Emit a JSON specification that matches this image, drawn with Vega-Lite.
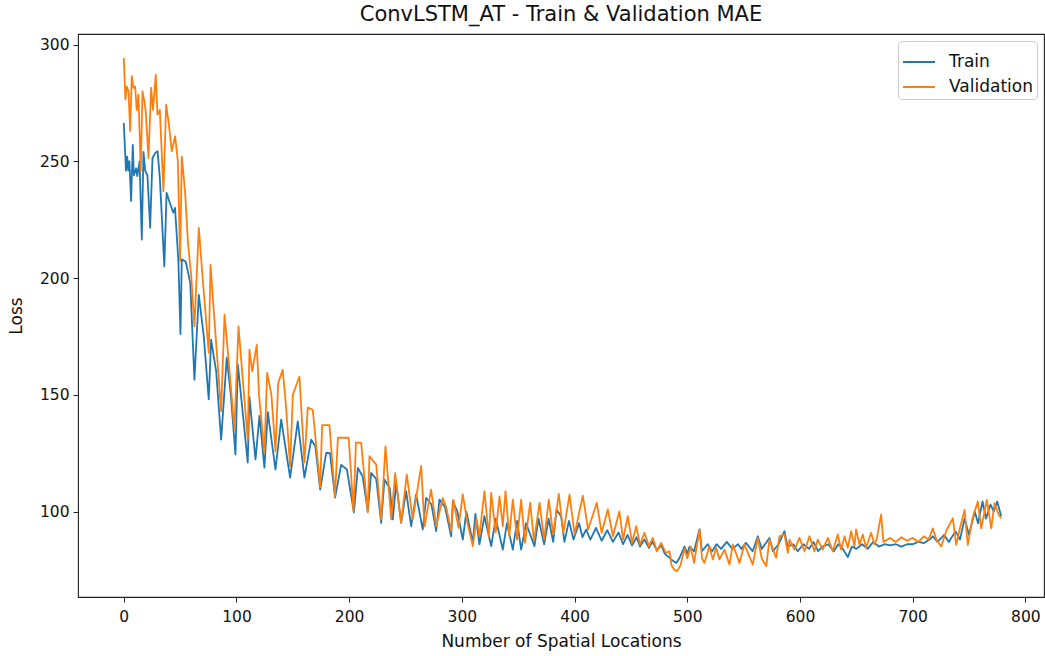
{
"$schema": "https://vega.github.io/schema/vega-lite/v6.json",
"width": 966, "height": 563,
"autosize": {"type": "none"},
"padding": {"left": 78, "top": 34, "right": 1, "bottom": 59},
"background": "white",
"config": {
  "font": "DejaVu Sans",
  "view": {"stroke": "#222", "strokeWidth": 1.1},
  "axis": {"labelFont": "DejaVu Sans", "labelFontSize": 15.5, "labelColor": "#111", "titleFont": "DejaVu Sans", "titleFontSize": 17, "titleFontWeight": "normal", "titleColor": "#111", "tickColor": "#222", "tickSize": 5, "domain": false, "grid": false, "labelPadding": 4}
},
"title": {"text": "ConvLSTM_AT - Train & Validation MAE", "font": "DejaVu Sans", "fontSize": 21, "fontWeight": "normal", "color": "#111", "offset": 9},
"data": {"values": [
{"series":"Train","x":0,"loss":266.4},{"series":"Train","x":2,"loss":246},{"series":"Train","x":3,"loss":252},{"series":"Train","x":4,"loss":246},{"series":"Train","x":5,"loss":250},{"series":"Train","x":6.5,"loss":233},{"series":"Train","x":8,"loss":257},{"series":"Train","x":9,"loss":244},{"series":"Train","x":11,"loss":247},{"series":"Train","x":12,"loss":243.6},{"series":"Train","x":14,"loss":250},{"series":"Train","x":16,"loss":216.5},{"series":"Train","x":17.5,"loss":254},{"series":"Train","x":19,"loss":246},{"series":"Train","x":21,"loss":244},{"series":"Train","x":23.4,"loss":221.5},{"series":"Train","x":25.5,"loss":251.4},{"series":"Train","x":28,"loss":253.6},{"series":"Train","x":30,"loss":254.3},{"series":"Train","x":32,"loss":243},{"series":"Train","x":36,"loss":205},{"series":"Train","x":38,"loss":236.5},{"series":"Train","x":41,"loss":232},{"series":"Train","x":44,"loss":228},{"series":"Train","x":45.5,"loss":230},{"series":"Train","x":48.5,"loss":207},{"series":"Train","x":50.3,"loss":176},{"series":"Train","x":51.5,"loss":208},{"series":"Train","x":55,"loss":207},{"series":"Train","x":59,"loss":198},{"series":"Train","x":62.7,"loss":156.5},{"series":"Train","x":66.6,"loss":192.8},{"series":"Train","x":71,"loss":175},{"series":"Train","x":75.4,"loss":148},{"series":"Train","x":77.5,"loss":173.6},{"series":"Train","x":82,"loss":160},{"series":"Train","x":86.4,"loss":130.8},{"series":"Train","x":91.4,"loss":165.9},{"series":"Train","x":95,"loss":150},{"series":"Train","x":99.1,"loss":124.4},{"series":"Train","x":101.2,"loss":163},{"series":"Train","x":105,"loss":145},{"series":"Train","x":110,"loss":121},{"series":"Train","x":111.5,"loss":149},{"series":"Train","x":116.9,"loss":122.3},{"series":"Train","x":120.4,"loss":141},{"series":"Train","x":124.8,"loss":118.8},{"series":"Train","x":127.8,"loss":142.6},{"series":"Train","x":134.6,"loss":118},{"series":"Train","x":139.7,"loss":139.4},{"series":"Train","x":147.6,"loss":114.5},{"series":"Train","x":154.4,"loss":138.6},{"series":"Train","x":160.3,"loss":114.5},{"series":"Train","x":166.3,"loss":130.8},{"series":"Train","x":170,"loss":128},{"series":"Train","x":174.3,"loss":109.4},{"series":"Train","x":179.6,"loss":125.1},{"series":"Train","x":183,"loss":125},{"series":"Train","x":187.5,"loss":106},{"series":"Train","x":192.9,"loss":120},{"series":"Train","x":198,"loss":118},{"series":"Train","x":204.2,"loss":99.6},{"series":"Train","x":207.7,"loss":118.7},{"series":"Train","x":212,"loss":115},{"series":"Train","x":216.5,"loss":100},{"series":"Train","x":219.5,"loss":116.5},{"series":"Train","x":224,"loss":114},{"series":"Train","x":228.4,"loss":95.1},{"series":"Train","x":231.3,"loss":113.7},{"series":"Train","x":236,"loss":110},{"series":"Train","x":238.7,"loss":96.6},{"series":"Train","x":241.7,"loss":112.3},{"series":"Train","x":246.1,"loss":95.1},{"series":"Train","x":250.5,"loss":108.7},{"series":"Train","x":255,"loss":93.7},{"series":"Train","x":259.4,"loss":107.3},{"series":"Train","x":265.3,"loss":92.3},{"series":"Train","x":268.3,"loss":105.8},{"series":"Train","x":273,"loss":103},{"series":"Train","x":277.2,"loss":91.6},{"series":"Train","x":280.1,"loss":105.1},{"series":"Train","x":285,"loss":102},{"series":"Train","x":290.5,"loss":89.4},{"series":"Train","x":292,"loss":104.4},{"series":"Train","x":296,"loss":100},{"series":"Train","x":300.8,"loss":88},{"series":"Train","x":304,"loss":100},{"series":"Train","x":309.7,"loss":86.6},{"series":"Train","x":312,"loss":99},{"series":"Train","x":315.6,"loss":85.9},{"series":"Train","x":320,"loss":98},{"series":"Train","x":326,"loss":85.2},{"series":"Train","x":330,"loss":97},{"series":"Train","x":336.3,"loss":83.7},{"series":"Train","x":340,"loss":95},{"series":"Train","x":345.2,"loss":83.7},{"series":"Train","x":349,"loss":96},{"series":"Train","x":352.6,"loss":83.7},{"series":"Train","x":357,"loss":95},{"series":"Train","x":364.4,"loss":85.2},{"series":"Train","x":368,"loss":97},{"series":"Train","x":373,"loss":86},{"series":"Train","x":377,"loss":97},{"series":"Train","x":381,"loss":87},{"series":"Train","x":384,"loss":100.9},{"series":"Train","x":388,"loss":98},{"series":"Train","x":391,"loss":87},{"series":"Train","x":395,"loss":96},{"series":"Train","x":399,"loss":88},{"series":"Train","x":404,"loss":95},{"series":"Train","x":407,"loss":89},{"series":"Train","x":410.3,"loss":92.3},{"series":"Train","x":414,"loss":88},{"series":"Train","x":419,"loss":93},{"series":"Train","x":424,"loss":87.5},{"series":"Train","x":429,"loss":92},{"series":"Train","x":434,"loss":87},{"series":"Train","x":439,"loss":91},{"series":"Train","x":443,"loss":86},{"series":"Train","x":447,"loss":90},{"series":"Train","x":451,"loss":85.5},{"series":"Train","x":455,"loss":89},{"series":"Train","x":458,"loss":85},{"series":"Train","x":462,"loss":88},{"series":"Train","x":466,"loss":84.5},{"series":"Train","x":469,"loss":87},{"series":"Train","x":473,"loss":83.5},{"series":"Train","x":477,"loss":85.5},{"series":"Train","x":480,"loss":82},{"series":"Train","x":485.7,"loss":79.5},{"series":"Train","x":490.2,"loss":78},{"series":"Train","x":493,"loss":80},{"series":"Train","x":497.5,"loss":85},{"series":"Train","x":500,"loss":82},{"series":"Train","x":502,"loss":85},{"series":"Train","x":506,"loss":83},{"series":"Train","x":510.9,"loss":92.4},{"series":"Train","x":513,"loss":83},{"series":"Train","x":518,"loss":86},{"series":"Train","x":522,"loss":83},{"series":"Train","x":526,"loss":86},{"series":"Train","x":530,"loss":84},{"series":"Train","x":535,"loss":87},{"series":"Train","x":540,"loss":84},{"series":"Train","x":545,"loss":86},{"series":"Train","x":548,"loss":84},{"series":"Train","x":552,"loss":86.6},{"series":"Train","x":558,"loss":83},{"series":"Train","x":562.6,"loss":89.4},{"series":"Train","x":566,"loss":84},{"series":"Train","x":572.9,"loss":88.7},{"series":"Train","x":576,"loss":83},{"series":"Train","x":581,"loss":86},{"series":"Train","x":586.2,"loss":91.6},{"series":"Train","x":589,"loss":85},{"series":"Train","x":594,"loss":86},{"series":"Train","x":598,"loss":83},{"series":"Train","x":603,"loss":86},{"series":"Train","x":608,"loss":84},{"series":"Train","x":612,"loss":87},{"series":"Train","x":616,"loss":83},{"series":"Train","x":620,"loss":85},{"series":"Train","x":625,"loss":86},{"series":"Train","x":630,"loss":83},{"series":"Train","x":634,"loss":86},{"series":"Train","x":638,"loss":84},{"series":"Train","x":642.4,"loss":80.5},{"series":"Train","x":646,"loss":85},{"series":"Train","x":650,"loss":84},{"series":"Train","x":655,"loss":86},{"series":"Train","x":660,"loss":84},{"series":"Train","x":665,"loss":87},{"series":"Train","x":670,"loss":85},{"series":"Train","x":675,"loss":86},{"series":"Train","x":680,"loss":85.5},{"series":"Train","x":685,"loss":86},{"series":"Train","x":690,"loss":85},{"series":"Train","x":695,"loss":86},{"series":"Train","x":700,"loss":86},{"series":"Train","x":705,"loss":87},{"series":"Train","x":710,"loss":86.5},{"series":"Train","x":715,"loss":88},{"series":"Train","x":717.8,"loss":89.4},{"series":"Train","x":722,"loss":87},{"series":"Train","x":728,"loss":90},{"series":"Train","x":732,"loss":87},{"series":"Train","x":738,"loss":91.5},{"series":"Train","x":742,"loss":88},{"series":"Train","x":746,"loss":97},{"series":"Train","x":750,"loss":90},{"series":"Train","x":755,"loss":100},{"series":"Train","x":758,"loss":95},{"series":"Train","x":762,"loss":104.3},{"series":"Train","x":765,"loss":97},{"series":"Train","x":769,"loss":103},{"series":"Train","x":772,"loss":100},{"series":"Train","x":775,"loss":104.3},{"series":"Train","x":778.5,"loss":98},
{"series":"Validation","x":0,"loss":294.2},{"series":"Validation","x":1.5,"loss":276.4},{"series":"Validation","x":2.7,"loss":282},{"series":"Validation","x":4.2,"loss":280},{"series":"Validation","x":5.7,"loss":263},{"series":"Validation","x":7.1,"loss":286.4},{"series":"Validation","x":8.6,"loss":281.4},{"series":"Validation","x":10.1,"loss":282},{"series":"Validation","x":11.5,"loss":272},{"series":"Validation","x":13,"loss":278.5},{"series":"Validation","x":15.1,"loss":245.8},{"series":"Validation","x":16.6,"loss":280},{"series":"Validation","x":18,"loss":276.4},{"series":"Validation","x":19.5,"loss":271.4},{"series":"Validation","x":21.9,"loss":251.4},{"series":"Validation","x":24.3,"loss":281.4},{"series":"Validation","x":26,"loss":272},{"series":"Validation","x":28.4,"loss":287},{"series":"Validation","x":29.9,"loss":270},{"series":"Validation","x":32,"loss":272},{"series":"Validation","x":35.2,"loss":237.2},{"series":"Validation","x":37.6,"loss":274.2},{"series":"Validation","x":40,"loss":266},{"series":"Validation","x":42.6,"loss":254.3},{"series":"Validation","x":45.6,"loss":260.7},{"series":"Validation","x":48,"loss":250},{"series":"Validation","x":50,"loss":207.3},{"series":"Validation","x":51.5,"loss":252},{"series":"Validation","x":54.4,"loss":237},{"series":"Validation","x":57,"loss":215},{"series":"Validation","x":60,"loss":200},{"series":"Validation","x":62.7,"loss":179.3},{"series":"Validation","x":66.6,"loss":221.5},{"series":"Validation","x":70,"loss":200},{"series":"Validation","x":75.4,"loss":168},{"series":"Validation","x":77,"loss":205.7},{"series":"Validation","x":80,"loss":185},{"series":"Validation","x":86.4,"loss":143},{"series":"Validation","x":89.4,"loss":184.3},{"series":"Validation","x":93,"loss":165},{"series":"Validation","x":98.2,"loss":135.1},{"series":"Validation","x":101.8,"loss":179.3},{"series":"Validation","x":105,"loss":160},{"series":"Validation","x":110,"loss":130.8},{"series":"Validation","x":111.5,"loss":169.3},{"series":"Validation","x":114,"loss":160},{"series":"Validation","x":118,"loss":171.4},{"series":"Validation","x":120,"loss":150},{"series":"Validation","x":124.8,"loss":125.2},{"series":"Validation","x":127.2,"loss":159.4},{"series":"Validation","x":131,"loss":150},{"series":"Validation","x":134.6,"loss":125.7},{"series":"Validation","x":137,"loss":155},{"series":"Validation","x":141,"loss":160.7},{"series":"Validation","x":144,"loss":145},{"series":"Validation","x":147.6,"loss":119.3},{"series":"Validation","x":150,"loss":150},{"series":"Validation","x":155.9,"loss":157.8},{"series":"Validation","x":158,"loss":140},{"series":"Validation","x":160.3,"loss":121},{"series":"Validation","x":163.3,"loss":144.5},{"series":"Validation","x":167.7,"loss":143.6},{"series":"Validation","x":174.3,"loss":110.5},{"series":"Validation","x":176,"loss":137},{"series":"Validation","x":182.5,"loss":137},{"series":"Validation","x":187.4,"loss":106.5},{"series":"Validation","x":190,"loss":131.6},{"series":"Validation","x":199.6,"loss":131.6},{"series":"Validation","x":203.8,"loss":100.1},{"series":"Validation","x":206,"loss":129.5},{"series":"Validation","x":210.6,"loss":129.5},{"series":"Validation","x":216.5,"loss":99.6},{"series":"Validation","x":218,"loss":123.7},{"series":"Validation","x":224,"loss":120.1},{"series":"Validation","x":228.4,"loss":96.6},{"series":"Validation","x":232.2,"loss":127.9},{"series":"Validation","x":237.3,"loss":96.6},{"series":"Validation","x":240.8,"loss":116.4},{"series":"Validation","x":246.1,"loss":95.3},{"series":"Validation","x":251.1,"loss":115.8},{"series":"Validation","x":256.4,"loss":96.6},{"series":"Validation","x":263.9,"loss":119.5},{"series":"Validation","x":266.8,"loss":93.7},{"series":"Validation","x":272.7,"loss":109.4},{"series":"Validation","x":277.2,"loss":93.7},{"series":"Validation","x":283,"loss":105.8},{"series":"Validation","x":286,"loss":102},{"series":"Validation","x":290.5,"loss":91.6},{"series":"Validation","x":292.5,"loss":105.1},{"series":"Validation","x":297,"loss":93},{"series":"Validation","x":300.8,"loss":107.3},{"series":"Validation","x":305,"loss":95},{"series":"Validation","x":309.7,"loss":85.2},{"series":"Validation","x":313,"loss":97},{"series":"Validation","x":315.6,"loss":89.4},{"series":"Validation","x":320,"loss":108.7},{"series":"Validation","x":324,"loss":89},{"series":"Validation","x":326,"loss":108},{"series":"Validation","x":330,"loss":91},{"series":"Validation","x":333.4,"loss":106.5},{"series":"Validation","x":336.3,"loss":93.7},{"series":"Validation","x":338.7,"loss":108.7},{"series":"Validation","x":342,"loss":89.4},{"series":"Validation","x":345.2,"loss":105.1},{"series":"Validation","x":349,"loss":88},{"series":"Validation","x":352.6,"loss":105.1},{"series":"Validation","x":356,"loss":86.6},{"series":"Validation","x":360.6,"loss":103.7},{"series":"Validation","x":364,"loss":87.3},{"series":"Validation","x":368.9,"loss":103.7},{"series":"Validation","x":373,"loss":88},{"series":"Validation","x":377.1,"loss":105.1},{"series":"Validation","x":381,"loss":90.2},{"series":"Validation","x":386,"loss":107.6},{"series":"Validation","x":390,"loss":90.9},{"series":"Validation","x":395.5,"loss":107.2},{"series":"Validation","x":400,"loss":90.2},{"series":"Validation","x":407.3,"loss":106.8},{"series":"Validation","x":412,"loss":92.3},{"series":"Validation","x":419.7,"loss":103.7},{"series":"Validation","x":424,"loss":90.9},{"series":"Validation","x":429.5,"loss":100.9},{"series":"Validation","x":434,"loss":89.4},{"series":"Validation","x":439.8,"loss":100.1},{"series":"Validation","x":443,"loss":88},{"series":"Validation","x":447.2,"loss":98},{"series":"Validation","x":451,"loss":86.6},{"series":"Validation","x":454.7,"loss":93.7},{"series":"Validation","x":458,"loss":85.9},{"series":"Validation","x":462,"loss":90.9},{"series":"Validation","x":466,"loss":85.2},{"series":"Validation","x":469.4,"loss":88.7},{"series":"Validation","x":473,"loss":83},{"series":"Validation","x":476.8,"loss":86.6},{"series":"Validation","x":481,"loss":82.3},{"series":"Validation","x":484.2,"loss":83},{"series":"Validation","x":486,"loss":77},{"series":"Validation","x":488.6,"loss":75},{"series":"Validation","x":491,"loss":74.5},{"series":"Validation","x":494,"loss":77},{"series":"Validation","x":497.5,"loss":84},{"series":"Validation","x":500,"loss":80},{"series":"Validation","x":503,"loss":85},{"series":"Validation","x":506,"loss":78},{"series":"Validation","x":508,"loss":84},{"series":"Validation","x":511,"loss":92.4},{"series":"Validation","x":513,"loss":80},{"series":"Validation","x":515.2,"loss":78},{"series":"Validation","x":519.7,"loss":85.2},{"series":"Validation","x":522.6,"loss":79.5},{"series":"Validation","x":525.6,"loss":84.5},{"series":"Validation","x":528.5,"loss":79.5},{"series":"Validation","x":533,"loss":83.7},{"series":"Validation","x":537.4,"loss":77.3},{"series":"Validation","x":540.4,"loss":85.9},{"series":"Validation","x":546.3,"loss":78},{"series":"Validation","x":550.7,"loss":85.9},{"series":"Validation","x":558.1,"loss":77.3},{"series":"Validation","x":562.6,"loss":88.7},{"series":"Validation","x":566,"loss":80},{"series":"Validation","x":570,"loss":76.6},{"series":"Validation","x":572.9,"loss":88},{"series":"Validation","x":578.8,"loss":80.2},{"series":"Validation","x":581.8,"loss":89.4},{"series":"Validation","x":586.2,"loss":90.2},{"series":"Validation","x":589.2,"loss":82.3},{"series":"Validation","x":590.7,"loss":88},{"series":"Validation","x":595.1,"loss":83.7},{"series":"Validation","x":599.5,"loss":88.7},{"series":"Validation","x":604,"loss":83},{"series":"Validation","x":608.4,"loss":89.4},{"series":"Validation","x":612.8,"loss":83},{"series":"Validation","x":615.8,"loss":88},{"series":"Validation","x":620.2,"loss":83.7},{"series":"Validation","x":624.7,"loss":88.7},{"series":"Validation","x":629.1,"loss":83},{"series":"Validation","x":633.5,"loss":90.2},{"series":"Validation","x":636.5,"loss":83.7},{"series":"Validation","x":639.5,"loss":89.4},{"series":"Validation","x":642.4,"loss":84.5},{"series":"Validation","x":645.4,"loss":91.6},{"series":"Validation","x":648.3,"loss":85.2},{"series":"Validation","x":649.8,"loss":92.3},{"series":"Validation","x":652.8,"loss":85.9},{"series":"Validation","x":655.7,"loss":90.2},{"series":"Validation","x":658.7,"loss":84.5},{"series":"Validation","x":663.1,"loss":90.9},{"series":"Validation","x":666,"loss":86},{"series":"Validation","x":668,"loss":88},{"series":"Validation","x":672,"loss":98.7},{"series":"Validation","x":674,"loss":87},{"series":"Validation","x":680,"loss":88.7},{"series":"Validation","x":685,"loss":87},{"series":"Validation","x":690,"loss":89},{"series":"Validation","x":695,"loss":87.5},{"series":"Validation","x":700,"loss":88.7},{"series":"Validation","x":705,"loss":87},{"series":"Validation","x":710,"loss":89.4},{"series":"Validation","x":714,"loss":88},{"series":"Validation","x":717.8,"loss":92.8},{"series":"Validation","x":721,"loss":88},{"series":"Validation","x":725.3,"loss":85},{"series":"Validation","x":730,"loss":92},{"series":"Validation","x":735.6,"loss":97.1},{"series":"Validation","x":738.6,"loss":85.7},{"series":"Validation","x":742,"loss":93},{"series":"Validation","x":746,"loss":100.7},{"series":"Validation","x":748.9,"loss":85.7},{"series":"Validation","x":753,"loss":97},{"series":"Validation","x":757.8,"loss":104.3},{"series":"Validation","x":760.8,"loss":92.8},{"series":"Validation","x":765.8,"loss":105},{"series":"Validation","x":769.7,"loss":92.8},{"series":"Validation","x":772.6,"loss":103.6},{"series":"Validation","x":776.4,"loss":98.5},{"series":"Validation","x":778.5,"loss":97.1}
]},
"mark": {"type": "line", "strokeWidth": 1.8, "strokeJoin": "round"},
"encoding": {
  "x": {"field": "x", "type": "quantitative", "scale": {"domain": [-40.6, 816.5], "nice": false, "zero": false},
        "axis": {"values": [0,100,200,300,400,500,600,700,800], "title": "Number of Spatial Locations", "titlePadding": 9, "labelPadding": 7}},
  "y": {"field": "loss", "type": "quantitative", "scale": {"domain": [63.4, 304.5], "nice": false, "zero": false},
        "axis": {"values": [100,150,200,250,300], "title": "Loss", "titlePadding": 14}},
  "color": {"field": "series", "type": "nominal", "scale": {"domain": ["Train","Validation"], "range": ["#1f77b4","#ff7f0e"]},
        "legend": {"title": null, "orient": "top-right", "offset": 7, "symbolType": "stroke", "symbolSize": 1024, "symbolStrokeWidth": 2, "labelFont": "DejaVu Sans", "labelFontSize": 17, "labelColor": "#111", "labelOffset": 13, "padding": 4, "rowPadding": 0, "strokeColor": "#ccc", "fillColor": "white", "cornerRadius": 4}}
}
}
